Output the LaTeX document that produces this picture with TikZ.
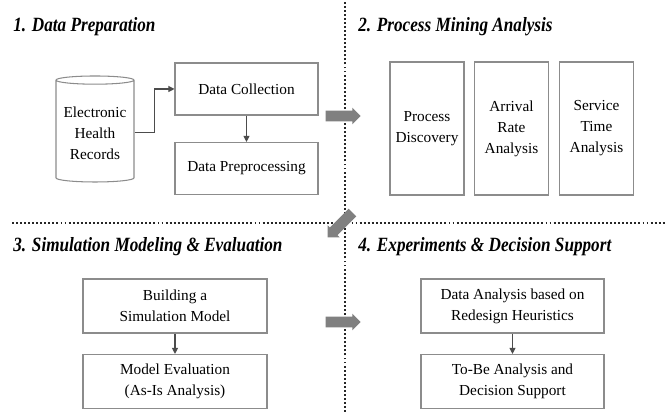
\documentclass[tikz,border=0pt]{standalone}
\usepackage{fontspec}
\setmainfont{Liberation Serif}
\newfontfamily\titlefont[FakeStretch=0.85]{Liberation Serif}
\usetikzlibrary{shapes.geometric,shapes.arrows,arrows.meta}

\begin{document}
\begin{tikzpicture}[
	box/.style={draw=black!45, line width=0.6pt, align=center, inner sep=1pt,
		font=\fontsize{8.7}{12}\selectfont},
	ttl/.style={anchor=west, inner sep=0pt, font=\titlefont\fontsize{11.5}{13}\selectfont\bfseries\itshape},
	flow/.style={draw=black!70, line width=0.6pt, -{Triangle[length=3.5pt,width=3.5pt]}},
	sep/.style={line width=1.1pt, dash pattern=on 1.1pt off 1.2pt, black!85},
	bigarrow/.style={single arrow, fill=black!50, inner sep=0.1cm, minimum height=0.7cm,
		single arrow head extend=0.06cm}
]
	\useasboundingbox (0,0) rectangle (13.3,8.24);

	% Skillelinjer
	\draw[sep] (6.90,0) -- (6.90,8.24);
	\draw[sep] (0.24,3.78) -- (13.3,3.78);

	% Overskrifter
	\node[ttl] (t1) at (0.26,7.70) {1. Data Preparation};
	\node[ttl] (t2) at (7.16,7.70) {2. Process Mining Analysis};
	\node[ttl] (t3) at (0.26,3.30) {3. Simulation Modeling \& Evaluation};
	\node[ttl] (t4) at (7.16,3.30) {4. Experiments \& Decision Support};

	% Del 1
	\node[draw=black!45, line width=0.6pt, cylinder, shape border rotate=90, shape aspect=0.7,
		minimum width=1.56cm, minimum height=2.12cm, anchor=shape center] (ehr) at (1.90,5.66) {};
	\node[box, draw=none] (ehrlbl) at (1.90,5.58) {Electronic\\Health\\Records};
	\node[box, minimum width=2.86cm, minimum height=1.04cm] (collect) at (4.93,6.46) {Data Collection};
	\node[box, minimum width=2.86cm, minimum height=1.04cm] (prep) at (4.93,4.87) {Data Preprocessing};
	\draw[flow] (ehr.east) -- ++(0.4,0) |- (collect.west);
	\draw[flow] (collect) -- (prep);

	% Del 2
	\node[box, minimum width=1.48cm, minimum height=2.66cm] (discovery) at (8.54,5.67) {Process\\Discovery};
	\node[box, minimum width=1.48cm, minimum height=2.66cm] (arrival) at (10.23,5.67) {Arrival\\Rate\\Analysis};
	\node[box, minimum width=1.48cm, minimum height=2.66cm] (service) at (11.93,5.67) {Service\\Time\\Analysis};

	% Del 3
	\node[box, minimum width=3.68cm, minimum height=1.08cm] (build) at (3.50,2.12) {Building a\\Simulation Model};
	\node[box, minimum width=3.68cm, minimum height=1.08cm] (asis) at (3.50,0.61) {Model Evaluation\\(As-Is Analysis)};
	\draw[flow] (build) -- (asis);

	% Del 4
	\node[box, minimum width=3.66cm, minimum height=1.08cm] (redesign) at (10.25,2.12) {Data Analysis based on\\Redesign Heuristics};
	\node[box, minimum width=3.66cm, minimum height=1.08cm] (tobe) at (10.25,0.61) {To-Be Analysis and\\Decision Support};
	\draw[flow] (redesign) -- (tobe);

	% Piler mellom delene
	\node[bigarrow] (a12) at (6.81,5.92) {};
	\node[bigarrow, rotate=225] (a23) at (6.84,3.78) {};
	\node[bigarrow] (a34) at (6.81,1.80) {};
\end{tikzpicture}
\end{document}
